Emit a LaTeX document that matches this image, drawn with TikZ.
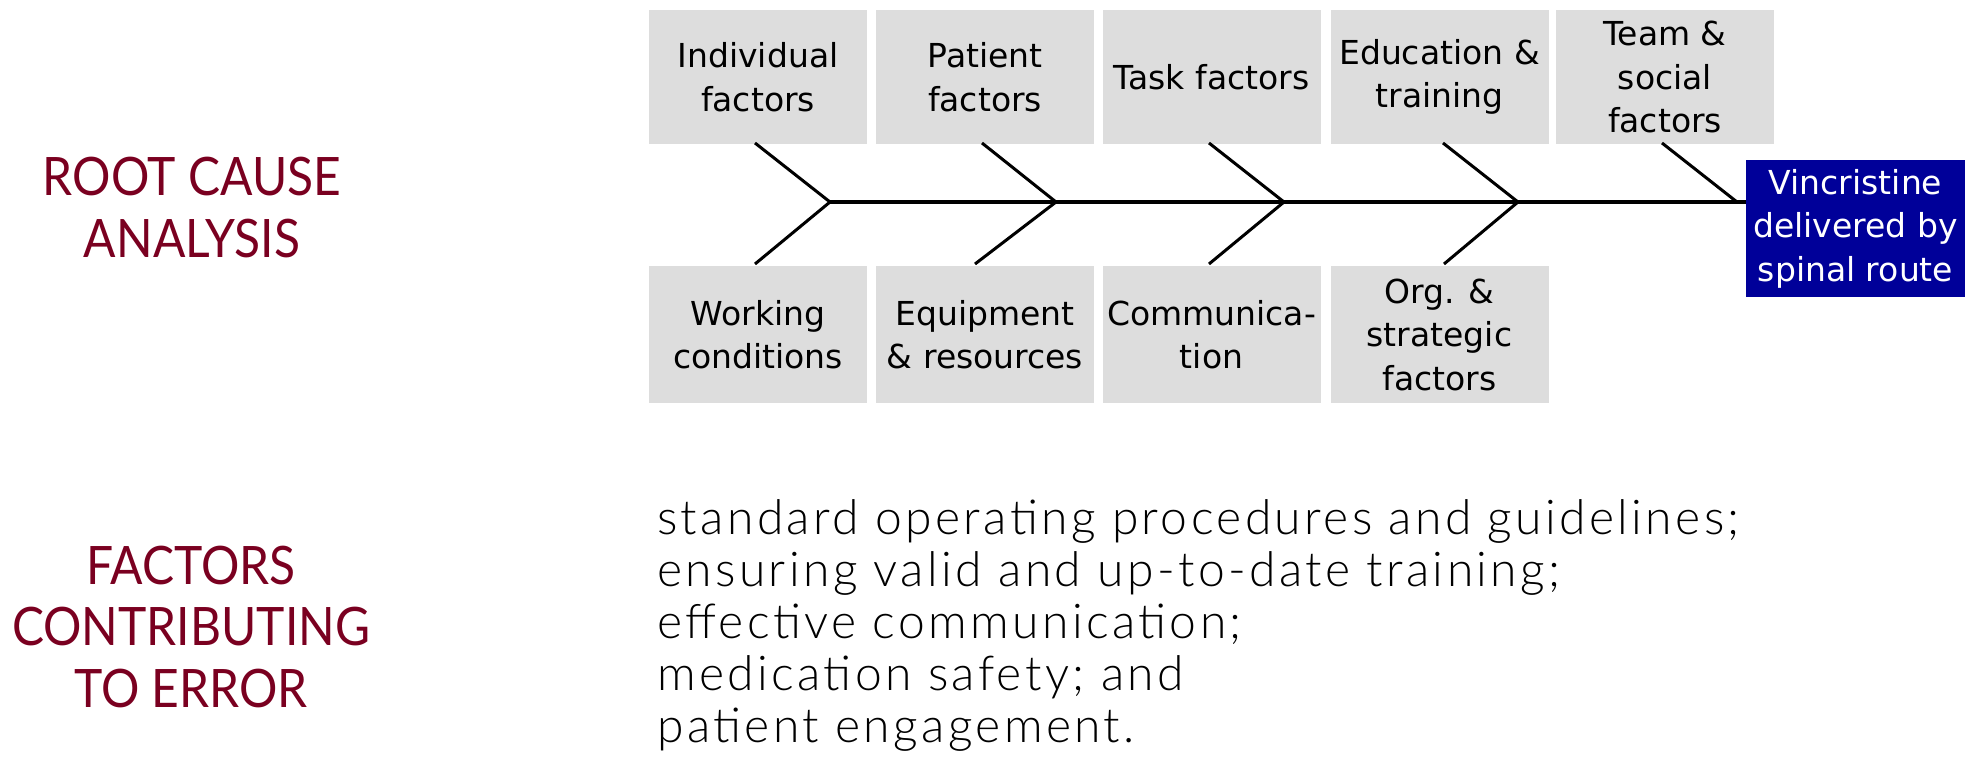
\documentclass[tikz,border=0pt]{standalone}
\usepackage{fontspec}
\setmainfont{DejaVu Sans}
\newfontfamily\titlefont[FakeStretch=0.905]{Lato}
\newfontfamily\notefont[LetterSpace=7]{Lato Light}
\definecolor{boxgray}{HTML}{DDDDDD}
\definecolor{effectblue}{HTML}{000099}
\definecolor{wine}{HTML}{7A0020}
\begin{document}
\begin{tikzpicture}[x=1pt,y=-1pt,
  factor/.style={fill=boxgray, minimum width=218pt, inner sep=0pt, align=center,
    font=\fontsize{33}{43.5}\selectfont},
  upper/.style={factor, minimum height=134pt},
  lower/.style={factor, minimum height=137pt},
  effect/.style={factor, fill=effectblue, text=white, minimum width=219pt, minimum height=136pt},
  bone/.style={line width=3pt},
  spine/.style={line width=4pt},
  heading/.style={text=wine, align=center, inner sep=0pt,
    font=\titlefont\fontsize{53}{61.5}\selectfont},
  notes/.style={align=left, inner sep=0pt, font=\notefont\fontsize{48}{51.8}\selectfont},
]
\useasboundingbox (0,0) rectangle (1979,757);

% cause categories above the spine
\node[upper] (ind)  at (758,77)    {Individual\\factors};
\node[upper] (pat)  at (985,77)    {Patient\\factors};
\node[upper] (task) at (1211.5,77) {Task factors};
\node[upper] (edu)  at (1439.5,77) {Education \&\\training};
\node[upper] (team) at (1665,77)   {Team \&\\social\\factors};

% cause categories below the spine
\node[lower] (work)  at (758,334.5)    {Working\\conditions};
\node[lower] (equip) at (985,334.5)    {Equipment\\\& resources};
\node[lower] (comm)  at (1211.5,334.5) {Communica-\\tion};
\node[lower] (org)   at (1439.5,334.5) {Org. \&\\strategic\\factors};

% the outcome at the head of the fish
\node[effect] (out) at (1855.5,228.5) {Vincristine\\delivered by\\spinal route};

% joints on the spine
\coordinate (j1) at (830,202);
\coordinate (j2) at (1056,202);
\coordinate (j3) at (1284,202);
\coordinate (j4) at (1518,202);
\coordinate (j5) at (1737,202);

% bone ends next to the boxes
\coordinate (ind-end)   at (755,143);
\coordinate (pat-end)   at (982,143);
\coordinate (task-end)  at (1209,143);
\coordinate (edu-end)   at (1443,143);
\coordinate (team-end)  at (1662,143);
\coordinate (work-end)  at (755,264);
\coordinate (equip-end) at (975,264);
\coordinate (comm-end)  at (1209,264);
\coordinate (org-end)   at (1444,264);

\draw[spine] (j1) -- (out.west |- j1);
\draw[bone] (ind-end) -- (j1) -- (work-end);
\draw[bone] (pat-end) -- (j2) -- (equip-end);
\draw[bone] (task-end) -- (j3) -- (comm-end);
\draw[bone] (edu-end) -- (j4) -- (org-end);
\draw[bone] (team-end) -- (j5);

% headings on the left (anchored at the baseline of their last line)
\node[heading, anchor=base] (rca) at (192,257) {ROOT CAUSE\\ANALYSIS};
\node[heading, anchor=base] (fce) at (191,707) {FACTORS\\CONTRIBUTING\\TO ERROR};

% list of contributing factors
\node[notes, anchor=base west] (list) at (657,742)
  {standard operating procedures and guidelines;\\
   ensuring valid and up-to-date training;\\
   effective communication;\\
   medication safety; and\\
   patient engagement.};
\end{tikzpicture}
\end{document}
